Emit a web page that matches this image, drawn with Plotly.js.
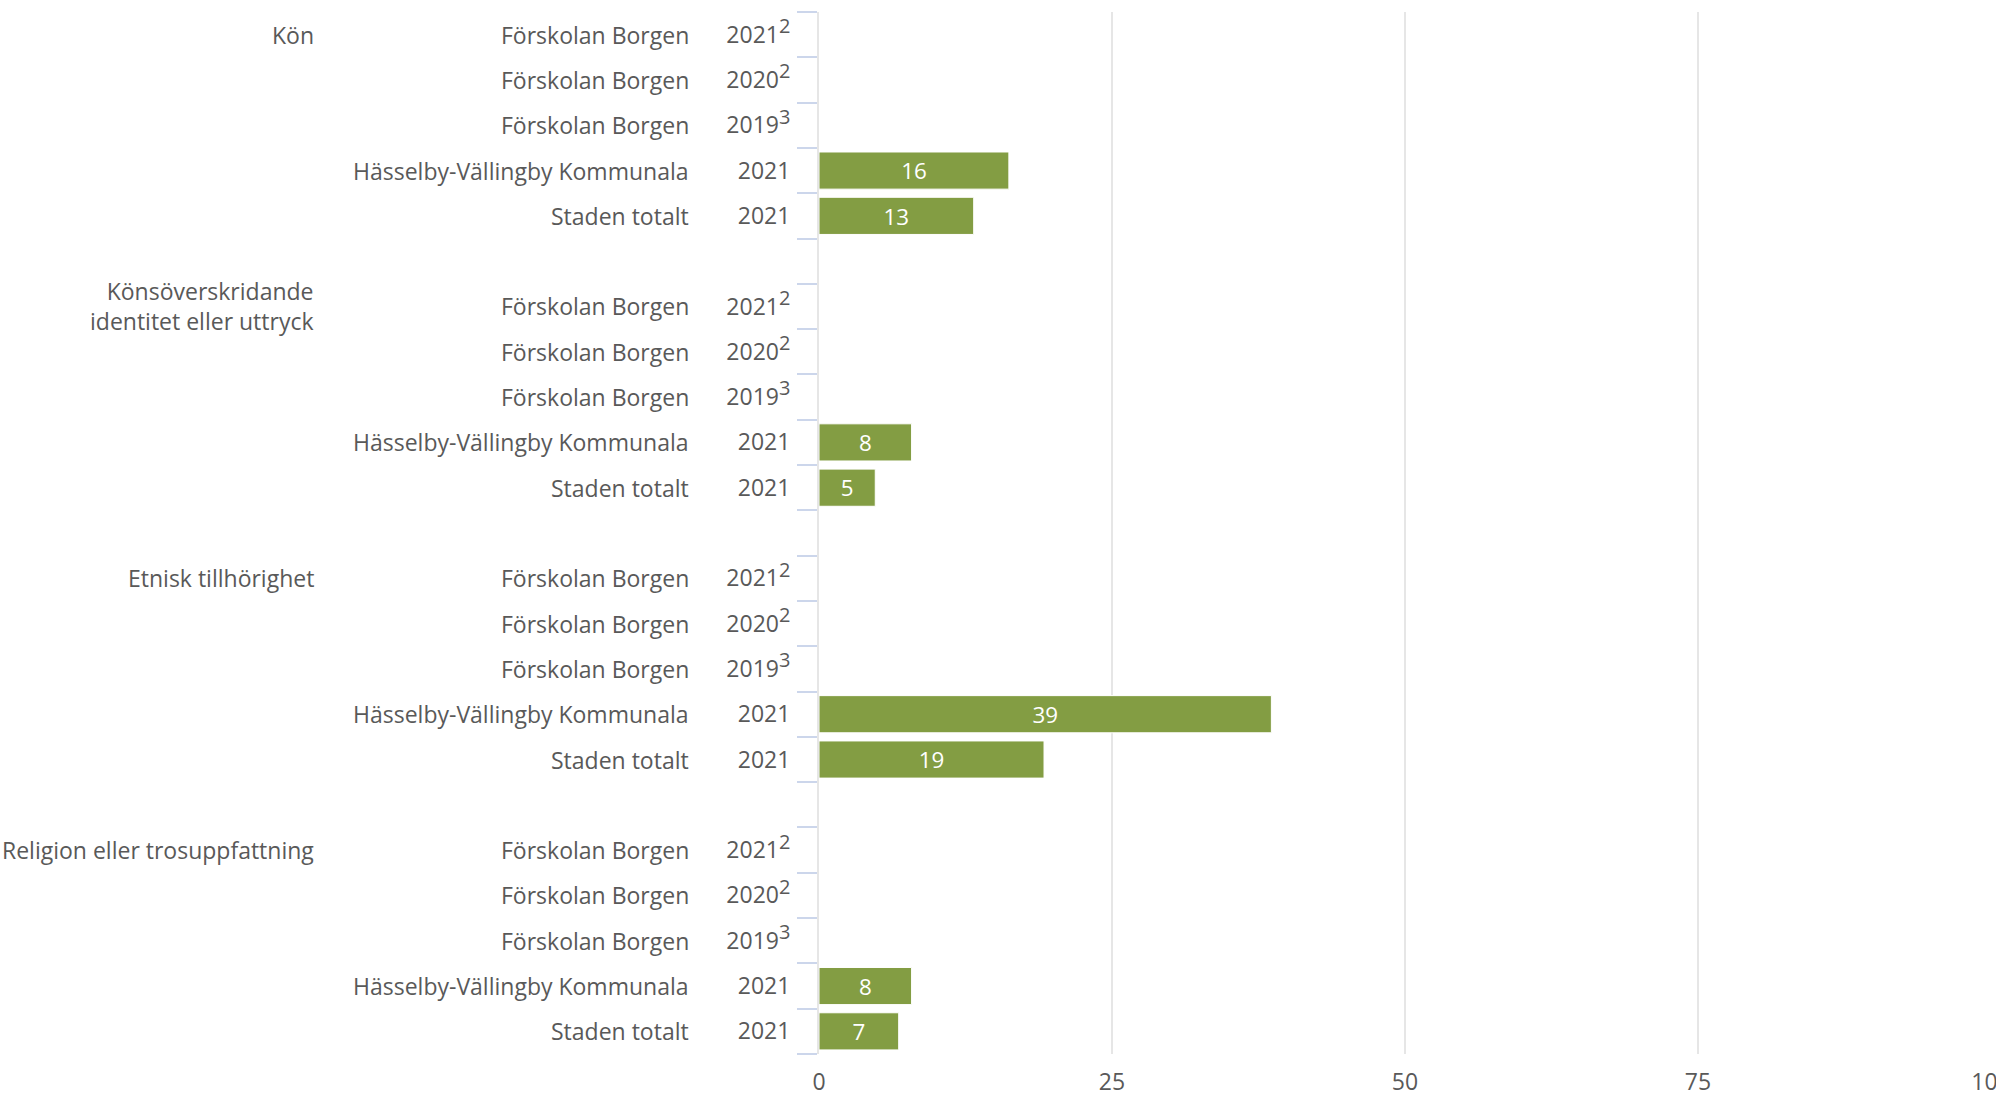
<!DOCTYPE html>
<html>
<head>
<meta charset="utf-8">
<script src="https://cdn.plot.ly/plotly-3.0.1.min.js"></script>
<style>html,body{margin:0;padding:0;background:#fff;}#chart{width:1996px;height:1098px;}</style>
</head>
<body>
<div id="chart"></div>
<script>
// ---- data ----
const groups = ["Kön", "Könsöverskridande<br>identitet eller uttryck", "Etnisk tillhörighet", "Religion eller trosuppfattning"];
const units = ["Förskolan Borgen", "Förskolan Borgen", "Förskolan Borgen", "Hässelby-Vällingby Kommunala", "Staden totalt"];
const years = ["2021", "2020", "2019", "2021", "2021"];
const footnotes = ["2", "2", "3", "", ""];
const valuesKon = [null, null, null, 16.2, 13.2];
const valuesKonsover = [null, null, null, 7.9, 4.8];
const valuesEtnisk = [null, null, null, 38.6, 19.2];
const valuesReligion = [null, null, null, 7.9, 6.8];
const groupValues = [valuesKon, valuesKonsover, valuesEtnisk, valuesReligion];
const xTicks = [0, 25, 50, 75, 100];

// ---- build rows ----
const cats = [], tickText = [], xs = [], ys = [];
const annotations = [];
const textColor = "#595959";
const font = "Open Sans, sans-serif";
const fs = 23;
groups.forEach((g, gi) => {
  if (gi > 0) { const gap = "gap" + gi; cats.push(gap); tickText.push(""); }
  units.forEach((u, ui) => {
    const id = "g" + gi + "r" + ui;
    cats.push(id);
    const fn = footnotes[ui];
    tickText.push(years[ui] + (fn ? "<sup><span style='font-size:20px'>" + fn + "</span></sup>" : ""));
    xs.push(groupValues[gi][ui]);
    ys.push(id);
    annotations.push({xref: "paper", yref: "y", x: -0.1092, y: id, text: u, showarrow: false,
      xanchor: "right", yanchor: "middle", font: {family: font, size: fs, color: textColor}});
    if (ui === 0) {
      annotations.push({xref: "paper", yref: "y", x: -0.4292, y: id, text: g, showarrow: false,
        xanchor: "right", yanchor: "middle", align: "right",
        font: {family: font, size: fs, color: textColor}});
    }
  });
});

const trace = {
  type: "bar", orientation: "h", x: xs, y: ys,
  marker: {color: "#839d43", line: {color: "#ffffff", width: 1}},
  text: xs.map(v => v == null ? "" : String(Math.round(v))),
  textposition: "inside", insidetextanchor: "middle", textangle: 0,
  textfont: {family: font, size: 23, color: "#ffffff"},
  hoverinfo: "x+y", cliponaxis: false
};

const layout = {
  width: 1996, height: 1098,
  margin: {l: 819, r: 5, t: 12, b: 44},
  paper_bgcolor: "#ffffff", plot_bgcolor: "#ffffff",
  showlegend: false, bargap: 0.18,
  font: {family: font, size: fs, color: textColor},
  xaxis: {range: [0, 100], tickmode: "array", tickvals: xTicks, ticktext: xTicks.map(String),
    showgrid: true, gridcolor: "#e6e6e6", gridwidth: 2, zeroline: false, showline: false,
    ticks: "", ticklabelstandoff: 12, ticklabeloverflow: "allow",
    tickfont: {family: font, size: fs, color: textColor}},
  yaxis: {type: "category", categoryorder: "array", categoryarray: cats,
    range: [cats.length - 0.5, -0.5], tickmode: "array", tickvals: cats, ticktext: tickText,
    tickson: "boundaries", ticks: "outside", ticklen: 20, tickcolor: "#ccd6eb", tickwidth: 2,
    showgrid: false, zeroline: false, showline: true, linecolor: "#e6e6e6", linewidth: 2,
    ticklabelstandoff: 22, tickfont: {family: font, size: fs, color: textColor}},
  annotations: annotations
};

Plotly.newPlot("chart", [trace], layout, {displayModeBar: false, staticPlot: true});
</script>
</body>
</html>
